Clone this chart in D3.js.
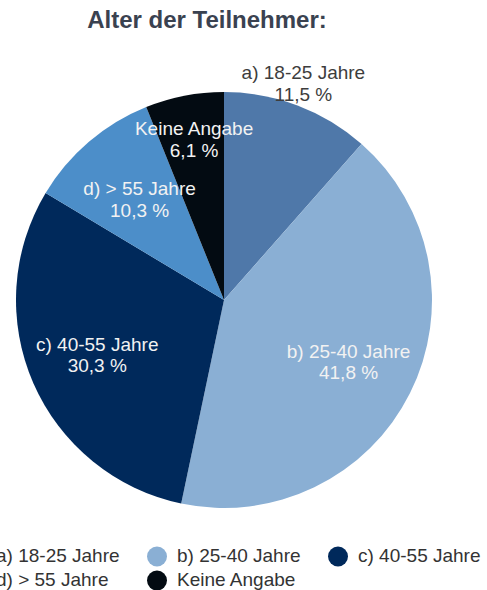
<!DOCTYPE html>
<html>
<head>
<meta charset="utf-8">
<script src="https://cdn.jsdelivr.net/npm/d3@7"></script>
<style>
  html, body { margin: 0; padding: 0; background: #fff; overflow: hidden; }
  svg { display: block; font-family: "Liberation Sans", Arial, sans-serif; }
</style>
</head>
<body>
<svg id="chart" width="487" height="590"></svg>
<script>
// ---- data ----
const title = "Alter der Teilnehmer:";
const categories = ["a) 18-25 Jahre", "b) 25-40 Jahre", "c) 40-55 Jahre", "d) > 55 Jahre", "Keine Angabe"];
const values = [11.5, 41.8, 30.3, 10.3, 6.1];
const valueLabels = ["11,5 %", "41,8 %", "30,3 %", "10,3 %", "6,1 %"];
const colors = ["#4f78a9", "#8aafd4", "#00295b", "#4c8ec9", "#030b12"];

// ---- layout ----
const W = 487, H = 590;
const cx = 224, cy = 300, R = 208;
const labelRadiusRatio = [1.08, 0.67, 0.665, 0.625, 0.755]; // label placement per slice
const labelDy = [0, 6, 6, 5, 0];
const labelColor = ["#3d3d3d", "#f2f2f2", "#f2f2f2", "#f2f2f2", "#f2f2f2"];

const svg = d3.select("#chart");

svg.append("text")
  .attr("x", 207).attr("y", 28)
  .attr("text-anchor", "middle")
  .attr("font-size", 24).attr("font-weight", "bold")
  .attr("fill", "#3a4250")
  .text(title);

const pie = d3.pie().sort(null).value(d => d)(values);
const arc = d3.arc().innerRadius(0).outerRadius(R);

const g = svg.append("g").attr("transform", `translate(${cx},${cy})`);

g.selectAll("path.slice").data(pie).enter().append("path")
  .attr("class", "slice")
  .attr("d", arc)
  .attr("fill", (d, i) => colors[i]);

const lineGap = 21.5;
pie.forEach((d, i) => {
  const r = R * labelRadiusRatio[i];
  const [lx, c0] = d3.arc().innerRadius(r).outerRadius(r).centroid(d);
  const ly = c0 + labelDy[i];
  const t = g.append("text")
    .attr("text-anchor", "middle")
    .attr("font-size", 19)
    .attr("fill", labelColor[i]);
  t.append("tspan").attr("x", lx).attr("y", ly - lineGap / 2).text(categories[i]);
  t.append("tspan").attr("x", lx).attr("y", ly + lineGap / 2).text(valueLabels[i]);
});

// ---- legend ----
const legendX = d3.scaleLinear().domain([0, 1]).range([-24, 157]); // column step
const legendRowY = [562, 586];
const perRow = 3;
const legend = svg.append("g");
categories.forEach((c, i) => {
  const col = i % perRow, row = Math.floor(i / perRow);
  const x = legendX(col), y = legendRowY[row];
  legend.append("circle")
    .attr("cx", x).attr("cy", y - 5.5).attr("r", 10)
    .attr("fill", colors[i]);
  legend.append("text")
    .attr("x", x + 20).attr("y", y)
    .attr("font-size", 19)
    .attr("fill", "#333")
    .text(c);
});
</script>
</body>
</html>
